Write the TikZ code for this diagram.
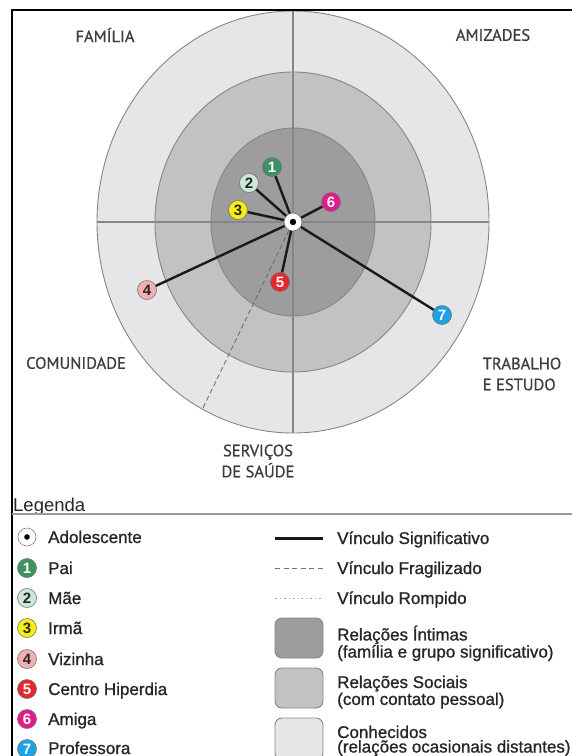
\documentclass[tikz,border=0pt]{standalone}
\usepackage{fontspec}
\setmainfont{Liberation Sans}
\newfontfamily\legfont{Liberation Sans}[FakeBold=1.0]
\newfontfamily\sectorfont{PT Sans}[FakeBold=0.7]
\definecolor{ringout}{HTML}{E6E6E8}
\definecolor{ringmid}{HTML}{C2C2C4}
\definecolor{ringin}{HTML}{9D9D9F}
\definecolor{ringline}{HTML}{868686}
\definecolor{labelgray}{HTML}{3E3E3E}
\definecolor{legtext}{HTML}{262626}
\definecolor{cpai}{HTML}{3E9160}
\definecolor{cmae}{HTML}{CDE8D5}
\definecolor{cirma}{HTML}{F5EE10}
\definecolor{cviz}{HTML}{F2B0B2}
\definecolor{chip}{HTML}{E8262C}
\definecolor{camiga}{HTML}{E31B8A}
\definecolor{cprof}{HTML}{1BA3E3}
\begin{document}
\begin{tikzpicture}[x=1pt,y=-1pt,
  ring/.style={draw=ringline, line width=0.9pt},
  axis/.style={draw=ringline, line width=1.1pt},
  sector/.style={font=\sectorfont\fontsize{16.5}{21}\selectfont, text=labelgray, inner sep=0pt},
  num/.style={circle, minimum size=19pt, inner sep=0pt, draw=black!55, line width=0.6pt,
    font=\bfseries\fontsize{15}{15}\selectfont},
  ego/.style={circle, minimum size=18pt, inner sep=0pt, fill=white, draw=black!60, line width=0.6pt,
    path picture={\fill[black] (path picture bounding box.center) circle (3.2pt);}},
  tie/.style={draw=black!90, line width=2.4pt},
  fragile/.style={draw=black!60, line width=0.8pt, dash pattern=on 5pt off 3pt},
  broken/.style={draw=black!35, line width=0.8pt, dash pattern=on 2pt off 3pt on 0.8pt off 3pt},
  legitem/.style={anchor=base west, inner sep=0pt, text=legtext, font=\legfont\fontsize{17}{17}\selectfont},
  legbox/.style={draw=ringline, line width=0.9pt, rounded corners=7pt},
]
\useasboundingbox (0,0) rectangle (572,756);
\fill[white] (0,0) rectangle (572,756);

% concentric circles of the network map
\filldraw[ring, fill=ringout] (293,222) ellipse [x radius=196pt, y radius=211pt];
\filldraw[ring, fill=ringmid] (293,222) ellipse [x radius=138pt, y radius=150pt];
\filldraw[ring, fill=ringin] (293,222) ellipse [x radius=82pt, y radius=94pt];

% quadrant axes
\draw[axis] (293,10) -- (293,433);
\draw[axis] (97,222) -- (489,222);

% frame
\draw[line width=2pt] (12,757) -- (12,10) -- (573,10);

% sector names
\node[sector] (familia) at (105,35) {FAMÍLIA};
\node[sector] (amizades) at (493,35) {AMIZADES};
\node[sector] (comunidade) at (76,363) {COMUNIDADE};
\node[sector, align=left] (trabalho) at (522,374) {TRABALHO\\E ESTUDO};
\node[sector, align=center] (saude) at (258,461) {SERVIÇOS\\DE SAÚDE};

% network members
\node[ego] (adol) at (293,222) {};
\node[num, fill=cpai, text=white] (pai) at (272,167) {1};
\node[num, fill=cmae, text=black!85] (mae) at (249,183) {2};
\node[num, fill=cirma, text=black!85] (irma) at (238,210) {3};
\node[num, fill=cviz, text=black!85] (vizinha) at (147,290) {4};
\node[num, fill=chip, text=white] (hiperdia) at (280,282) {5};
\node[num, fill=camiga, text=white] (amiga) at (331,202) {6};
\node[num, fill=cprof, text=white] (prof) at (442,315) {7};
\coordinate (saudeend) at (202,410);

% bonds
\draw[fragile] (adol) -- (saudeend);
\foreach \m in {pai,mae,irma,vizinha,hiperdia,amiga,prof}
  \draw[tie] (adol) -- (\m);

% legend
\node[anchor=base west, inner sep=0pt, text=legtext, font=\fontsize{18.5}{18.5}\selectfont] (legenda) at (13,511) {Legenda};
\draw[draw=black!40, line width=1.5pt] (12,514) -- (572,514);

\node[ego, draw=black!50, minimum size=18pt, path picture={\fill[black] (path picture bounding box.center) circle (2.8pt);}] (lgadol) at (27,537) {};
\node[num, fill=cpai, text=white] (lgpai) at (27,568) {1};
\node[num, fill=cmae, text=black!85] (lgmae) at (27,598) {2};
\node[num, fill=cirma, text=black!85] (lgirma) at (27,628) {3};
\node[num, fill=cviz, text=black!85] (lgviz) at (27,659) {4};
\node[num, fill=chip, text=white] (lghip) at (27,689) {5};
\node[num, fill=camiga, text=white] (lgamiga) at (27,719) {6};
\node[num, fill=cprof, text=white] (lgprof) at (27,749) {7};

\node[legitem] (tadol) at (48,543) {Adolescente};
\node[legitem] (tpai) at (48,574) {Pai};
\node[legitem] (tmae) at (48,604) {Mãe};
\node[legitem] (tirma) at (48,634) {Irmã};
\node[legitem] (tviz) at (48,665) {Vizinha};
\node[legitem] (thip) at (48,695) {Centro Hiperdia};
\node[legitem] (tamiga) at (48,725) {Amiga};
\node[legitem] (tprof) at (48,754) {Professora};

% line types
\coordinate (sigA) at (275,538);  \coordinate (sigB) at (323,538);
\coordinate (fraA) at (275,568);  \coordinate (fraB) at (323,568);
\coordinate (romA) at (275,598);  \coordinate (romB) at (323,598);
\draw[draw=black!90, line width=3pt] (sigA) -- (sigB);
\draw[draw=black!55, line width=0.8pt, dash pattern=on 5pt off 3.5pt] (fraA) -- (fraB);
\draw[broken] (romA) -- (romB);
\node[legitem] (tsig) at (337,544) {Vínculo Significativo};
\node[legitem] (tfra) at (337,574) {Vínculo Fragilizado};
\node[legitem] (trom) at (337,604) {Vínculo Rompido};

% zone swatches
\filldraw[legbox, fill=ringin] (275,618) rectangle (323,658);
\filldraw[legbox, fill=ringmid] (275,668) rectangle (323,708);
\filldraw[legbox, fill=ringout] (275,718) rectangle (323,760);
\node[legitem, align=left, anchor=north west, font=\legfont\fontsize{17}{14.5}\selectfont] (tint) at (337,625.5) {Relações Íntimas\\(família e grupo significativo)};
\node[legitem, align=left, anchor=north west, font=\legfont\fontsize{17}{14.5}\selectfont] (tsoc) at (337,675.5) {Relações Sociais\\(com contato pessoal)};
\node[legitem, align=left, anchor=north west, font=\legfont\fontsize{17}{14.5}\selectfont] (tcon) at (337,725.5) {Conhecidos\\(relações ocasionais distantes)};
\end{tikzpicture}
\end{document}
